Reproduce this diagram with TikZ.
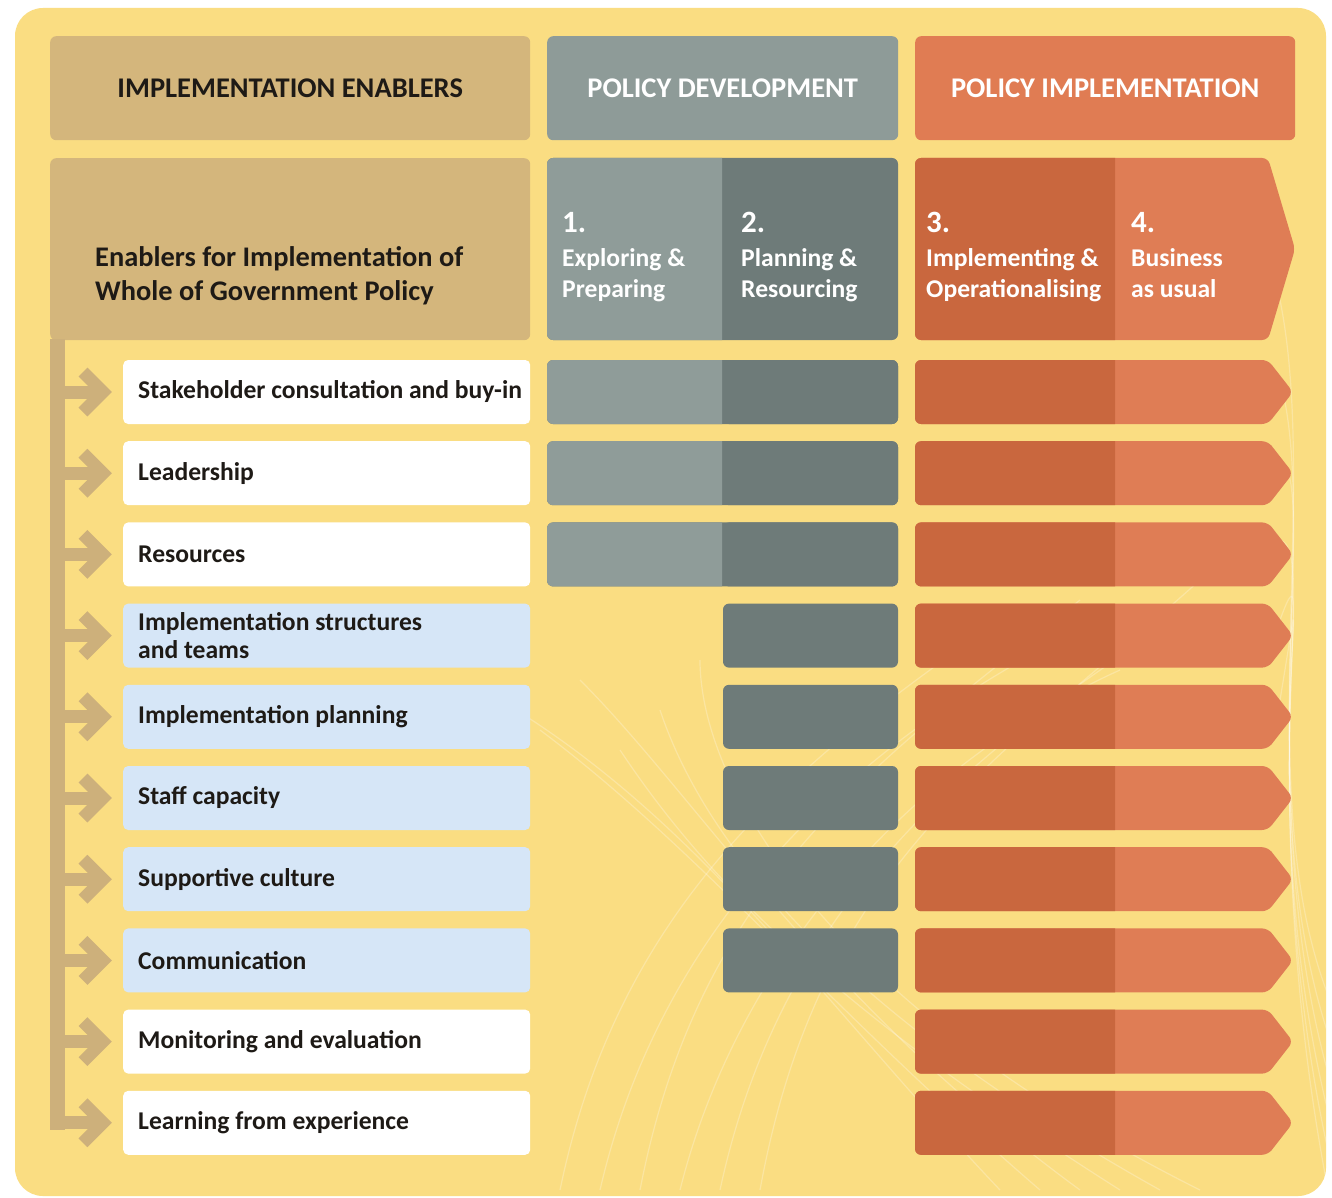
\documentclass[tikz,border=0pt]{standalone}
\usepackage{fontspec}
\setmainfont{Carlito}
\definecolor{bgyel}{HTML}{FADD82}
\definecolor{tan}{HTML}{D4B67C}
\definecolor{barcol}{HTML}{CDB07B}
\definecolor{ghead}{HTML}{8E9B98}
\definecolor{glight}{HTML}{8F9C99}
\definecolor{gdark}{HTML}{6E7B79}
\definecolor{ohead}{HTML}{E07C53}
\definecolor{odark}{HTML}{C9673E}
\definecolor{olight}{HTML}{DF7D55}
\definecolor{lblue}{HTML}{D6E6F7}
\definecolor{ink}{HTML}{1E1A16}
\begin{document}
\begin{tikzpicture}[x=1pt,y=-1pt,
  hdr/.style={rectangle, rounded corners=6, inner sep=0, anchor=north west,
    font=\bfseries\fontsize{28.5}{32}\selectfont},
  rowbox/.style={rectangle, rounded corners=5, anchor=west, minimum height=64,
    minimum width=407, inner sep=0},
  rowtxt/.style={anchor=west, inner sep=0, align=left, text=ink,
    font=\bfseries\fontsize{25.6}{28}\selectfont},
  shaft/.style={barcol, line width=13},
  chev/.style={barcol, line width=12.5, line join=miter},
  phnum/.style={anchor=base west, text=white, inner sep=0, font=\bfseries\fontsize{31}{36}\selectfont},
  phtxt/.style={anchor=base west, text=white, inner sep=0, align=left, font=\bfseries\fontsize{25.6}{31}\selectfont},
  streak/.style={white, opacity=0.25, line width=1.2}
]
\useasboundingbox (0,0) rectangle (1332,1198);
\fill[white] (0,0) rectangle (1332,1198);
\fill[bgyel, rounded corners=28] (15,8) rectangle (1326,1196);

% faint texture
\begin{scope}
\clip[rounded corners=28] (15,8) rectangle (1326,1196);
\foreach \a/\b in {0/0,40/30,80/-20,120/50,160/10,200/-40}{
  \draw[streak] (560+\a,1190) .. controls (620+\a,900+\b) and (800+\a,760) .. (1000+\a,620+\b);
  \draw[streak] (500+\a,700+\b) .. controls (700,820+\b) and (820,1000) .. (1000+\a,1190);
  \draw[streak] (1280,300+2*\a) .. controls (1320,500+\b) and (1250,800) .. (1330,1000+\a);
}
\end{scope}

% top headers
\node[hdr, fill=tan, minimum width=480, minimum height=104, text=ink] (henab) at (50,36) {IMPLEMENTATION ENABLERS};
\node[hdr, fill=ghead, minimum width=351, minimum height=104, text=white] (hdev) at (547,36) {POLICY DEVELOPMENT};
\node[hdr, fill=ohead, minimum width=380, minimum height=104, text=white] (himp) at (915,36) {POLICY IMPLEMENTATION};

% enablers box and bar
\node[rectangle, rounded corners=6, fill=tan, anchor=north west, minimum width=480, minimum height=182, inner sep=0] (enab) at (50,158) {};
\node[rectangle, fill=barcol, anchor=north west, minimum width=15, minimum height=791, inner sep=0] (bar) at (50,339) {};
\node[anchor=west, align=left, inner sep=0, text=ink, font=\bfseries\fontsize{28.4}{34}\selectfont] (enabtxt) at (95,276) {Enablers for Implementation of\\Whole of Government Policy};

% phase header: policy development
\fill[gdark, rounded corners=6] (547,158) rectangle (898,340);
\begin{scope}
\clip (540,150) rectangle (722,350);
\fill[glight, rounded corners=6] (547,158) rectangle (898,340);
\end{scope}
% phase header: policy implementation
\fill[olight, rounded corners=6] (915,158) -- (1268,158) -- (1295,249) -- (1268,340) -- (915,340) -- cycle;
\begin{scope}
\clip (900,150) rectangle (1115,350);
\fill[odark, rounded corners=6] (915,158) rectangle (1200,340);
\end{scope}

\node[phnum] (n1) at (562,233) {1.};
\node[phtxt] (p1) at (562,297) {Exploring \&\\Preparing};
\node[phnum] (n2) at (741,233) {2.};
\node[phtxt] (p2) at (741,297) {Planning \&\\Resourcing};
\node[phnum] (n3) at (926,233) {3.};
\node[phtxt] (p3) at (926,297) {Implementing \&\\Operationalising};
\node[phnum] (n4) at (1131,233) {4.};
\node[phtxt] (p4) at (1131,297) {Business\\as usual};

% rows
\foreach \i/\txt/\col in {
  1/{Stakeholder consultation and buy-in}/white,
  2/{Leadership}/white,
  3/{Resources}/white,
  4/{Implementation structures\\and teams}/lblue,
  5/{Implementation planning}/lblue,
  6/{Staff capacity}/lblue,
  7/{Supportive culture}/lblue,
  8/{Communication}/lblue,
  9/{Monitoring and evaluation}/white,
  10/{Learning from experience}/white}{
  \pgfmathsetmacro\c{392+81.2*(\i-1)}
  \pgfmathsetmacro\t{\c-32}
  \pgfmathsetmacro\b{\c+32}
  \node[rowbox, fill=\col] (r\i) at (123,\c) {};
  \node[rowtxt] (l\i) at (138,\c) {\txt};
  % connector from bar
  \draw[shaft] (bar.east |- r\i.west) -- ([xshift=-20]r\i.west);
  \draw[chev] ([xshift=-40,yshift=20]r\i.west) -- ([xshift=-20]r\i.west) -- ([xshift=-40,yshift=-20]r\i.west);
  % orange arrow bar
  \fill[olight, rounded corners=6] (915,\t) -- (1268,\t) -- (1293,\c) -- (1268,\b) -- (915,\b) -- cycle;
  \begin{scope}
    \clip (900,\t-5) rectangle (1115,\b+5);
    \fill[odark, rounded corners=6] (915,\t) rectangle (1200,\b);
  \end{scope}
  % gray bars
  \ifnum\i<9
    \fill[gdark, rounded corners=6] (723,\t) rectangle (898,\b);
  \fi
  \ifnum\i<4
    \fill[gdark, rounded corners=6] (547,\t) rectangle (898,\b);
    \begin{scope}
      \clip (540,\t-5) rectangle (722,\b+5);
      \fill[glight, rounded corners=6] (547,\t) rectangle (898,\b);
    \end{scope}
  \fi
}
\end{tikzpicture}
\end{document}
